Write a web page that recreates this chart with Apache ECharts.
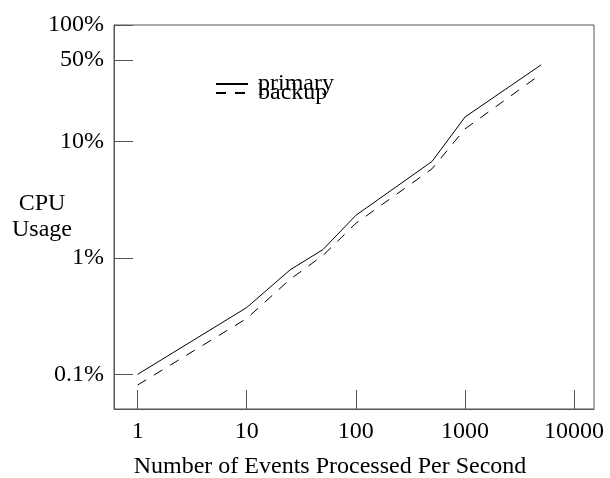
<!DOCTYPE html>
<html>
<head>
<meta charset="utf-8">
<script src="https://cdn.jsdelivr.net/npm/echarts@6/dist/echarts.min.js"></script>
<style>html,body{margin:0;padding:0;background:#fff}#c{width:610px;height:478px}</style>
</head>
<body>
<div id="c"></div>
<script>
const eventsPerSec = [1, 10, 25, 50, 100, 500, 1000, 5000];
const primaryCpu = [0.1, 0.375, 0.79, 1.18, 2.32, 6.74, 16.2, 45.5];
const backupCpu = [0.081, 0.302, 0.656, 1.05, 1.98, 5.83, 12.8, 38];
const xTickValues = [1, 10, 100, 1000, 10000];
const yTickValues = [0.1, 1, 10, 50, 100];
const seriesNames = ['primary', 'backup'];

const FONT = '"Liberation Serif", "Times New Roman", serif';
const AX = '#555';
const chart = echarts.init(document.getElementById('c'), null, {renderer: 'canvas'});
function pairs(xs, ys) { return xs.map((x, i) => [x, ys[i]]); }
const legendCommon = {
  padding: 0, itemWidth: 32, itemHeight: 14, itemGap: 0,
  itemStyle: {color: 'transparent', borderWidth: 0, opacity: 0},
  textStyle: {fontFamily: FONT, fontSize: 24, color: '#000', padding: [0, 0, 0, 5]}
};
chart.setOption({
  animation: false,
  backgroundColor: '#fff',
  textStyle: {fontFamily: FONT, color: '#000'},
  grid: {left: 114, right: 16, top: 25, bottom: 69, show: true, borderColor: AX, borderWidth: 1,
         containLabel: false, outerBoundsMode: 'none'},
  legend: [
    Object.assign({data: [seriesNames[0]], left: 215, top: 72}, legendCommon),
    Object.assign({data: [seriesNames[1]], left: 215, top: 81}, legendCommon)
  ],
  xAxis: {
    type: 'log', logBase: 10, min: 0.607, max: 15240,
    name: 'Number of Events Processed Per Second', nameLocation: 'middle', nameGap: 46, nameMoveOverlap: false,
    nameTextStyle: {fontFamily: FONT, fontSize: 24, color: '#000', padding: [0, 48, 0, 0]},
    axisLine: {lineStyle: {color: AX, width: 1}},
    axisTick: {inside: true, length: 19, lineStyle: {color: AX, width: 1}, customValues: xTickValues},
    axisLabel: {fontFamily: FONT, fontSize: 24, color: '#000', margin: 11, customValues: xTickValues,
      formatter: v => String(Math.round(v))},
    splitLine: {show: false}, minorTick: {show: false}
  },
  yAxis: {
    type: 'log', logBase: 10, min: 0.0504, max: 100,
    name: 'CPU\nUsage', nameLocation: 'middle', nameGap: 72, nameRotate: 0, nameMoveOverlap: false,
    nameTextStyle: {fontFamily: FONT, fontSize: 24, color: '#000', align: 'center', verticalAlign: 'middle', lineHeight: 26},
    axisLine: {lineStyle: {color: AX, width: 1}},
    axisTick: {inside: true, length: 19, lineStyle: {color: AX, width: 1}, customValues: yTickValues},
    axisLabel: {fontFamily: FONT, fontSize: 24, color: '#000', margin: 10, customValues: yTickValues,
      formatter: v => (v < 1 ? String(v) : String(Math.round(v))) + '%'},
    splitLine: {show: false}, minorTick: {show: false}
  },
  series: [
    {name: seriesNames[0], type: 'line', data: pairs(eventsPerSec, primaryCpu), symbol: 'none',
     lineStyle: {color: '#000', width: 1}, itemStyle: {color: '#000'}},
    {name: seriesNames[1], type: 'line', data: pairs(eventsPerSec, backupCpu), symbol: 'none',
     lineStyle: {color: '#000', width: 1, type: [10, 9]}, itemStyle: {color: '#000'}}
  ]
});
</script>
</body>
</html>
